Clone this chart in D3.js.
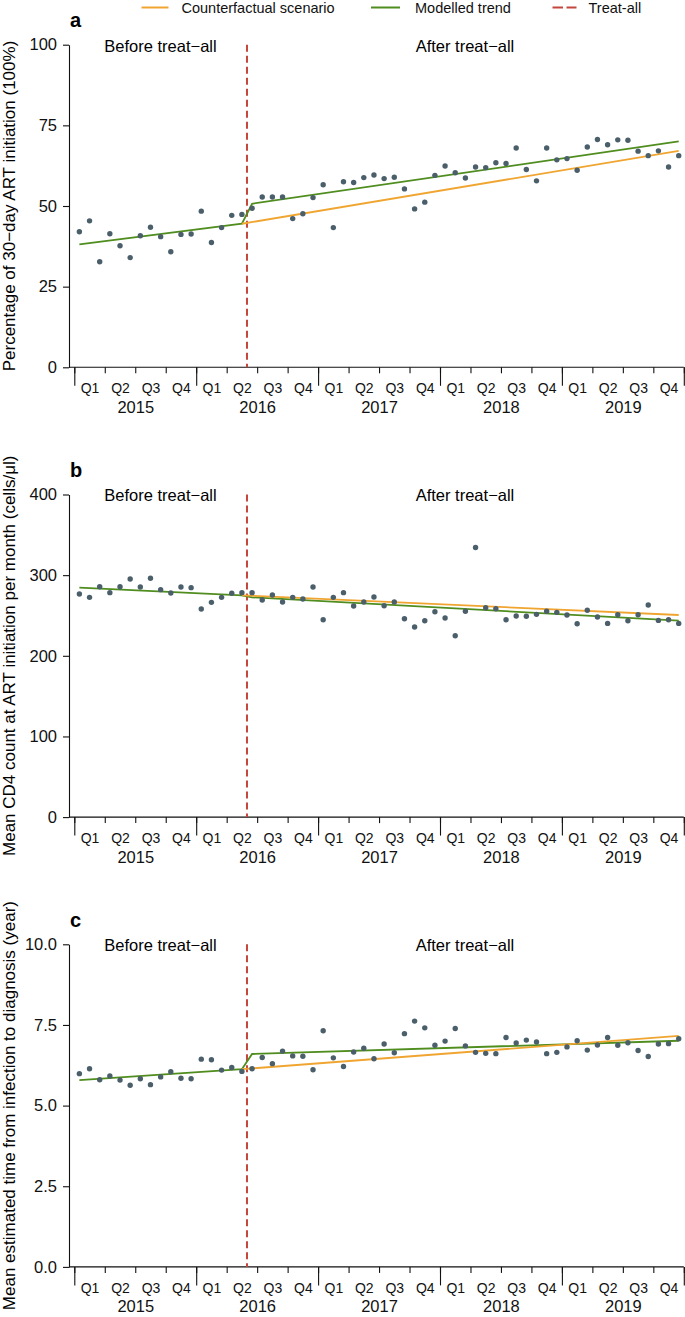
<!DOCTYPE html>
<html>
<head>
<meta charset="utf-8">
<script src="https://cdn.jsdelivr.net/npm/d3@7"></script>
<style>
  body { margin: 0; background: #fff; }
  text { font-family: "Liberation Sans", Arial, sans-serif; }
</style>
</head>
<body>
<script>
// --- Data ---
const years = ["2015", "2016", "2017", "2018", "2019"];
const quarters = ["Q1", "Q2", "Q3", "Q4"];
const treatAllMonth = 17; // June 2016

// monthly observations, Jan 2015 .. Dec 2019
const art30 = [
  42.0, 45.4, 32.7, 41.4, 37.7, 34.0, 40.8, 43.4, 40.5, 35.8, 41.2, 41.3,
  48.4, 38.7, 43.3, 47.1, 47.4, 49.3, 52.8, 52.8, 52.8, 46.1, 47.6, 52.6,
  56.6, 43.3, 57.5, 57.3, 58.8, 59.6, 58.5, 58.9, 55.3, 49.1, 51.2, 59.5,
  62.4, 60.3, 58.7, 62.1, 61.9, 63.4, 63.2, 68.0, 61.3, 57.8, 68.0, 64.3,
  64.7, 61.1, 68.3, 70.6, 69.0, 70.5, 70.4, 67.0, 65.6, 67.1, 62.1, 65.6
];
const cd4 = [
  276.6, 272.5, 285.7, 278.3, 285.7, 295.3, 285.3, 296.1, 282.0, 277.9, 285.3, 284.5,
  258.0, 266.3, 272.5, 277.5, 278.3, 278.3, 269.2, 275.4, 266.7, 272.5, 270.4, 285.3,
  244.7, 272.5, 278.3, 261.7, 266.7, 272.9, 262.1, 266.7, 246.0, 235.7, 243.5, 254.7,
  246.8, 224.8, 255.2, 334.2, 259.6, 258.4, 244.7, 249.3, 249.0, 251.4, 255.2, 253.9,
  250.6, 239.8, 256.4, 248.1, 240.2, 250.9, 243.5, 250.9, 263.0, 243.9, 244.7, 240.2
];
const timeDx = [
  5.99, 6.14, 5.80, 5.92, 5.79, 5.63, 5.83, 5.65, 5.89, 6.05, 5.85, 5.83,
  6.44, 6.42, 6.10, 6.18, 6.06, 6.14, 6.49, 6.30, 6.69, 6.54, 6.53, 6.11,
  7.32, 6.48, 6.21, 6.66, 6.78, 6.45, 6.91, 6.64, 7.23, 7.62, 7.41, 6.87,
  7.00, 7.39, 6.85, 6.65, 6.62, 6.61, 7.11, 6.94, 7.03, 6.97, 6.61, 6.65,
  6.82, 7.01, 6.72, 6.88, 7.11, 6.87, 6.95, 6.71, 6.52, 6.91, 6.92, 7.07
];

// fitted lines (month index -> value)
const trendMonths = [0, 16, 17, 59];
const trendA = [38.1, 44.5, 50.7, 70.0];
const trendB = [284.5, 275.0, 272.5, 243.5];
const trendC = [5.79, 6.13, 6.60, 7.01];
const cfMonths = [16, 59];
const cfA = [44.5, 67.1];
const cfB = [275.0, 250.6];
const cfC = [6.13, 7.16];

const ticksA = [0, 25, 50, 75, 100];
const ticksB = [0, 100, 200, 300, 400];
const ticksC = [0, 2.5, 5, 7.5, 10];

// --- Constants ---
const W = 685, H = 1317;
const AXIS_X = 69;
const PANEL_TOP = 44.7, PANEL_H = 322.6, PANEL_STEP = 449.8;
const ORANGE = "#f0a530", GREEN = "#4f8d1f", RED = "#c4473d", DOT = "#4b5f6b";

const panels = [
  { label: "a", obs: art30, trend: trendA, cf: cfA, ticks: ticksA, fmt: d3.format("d"),
    title: "Percentage of 30\u2212day ART initiation (100%)" },
  { label: "b", obs: cd4, trend: trendB, cf: cfB, ticks: ticksB, fmt: d3.format("d"),
    title: "Mean CD4 count at ART initiation per month (cells/\u03bcl)" },
  { label: "c", obs: timeDx, trend: trendC, cf: cfC, ticks: ticksC, fmt: d3.format(".1f"),
    title: "Mean estimated time from infection to diagnosis (year)" }
];

const svg = d3.select("body").append("svg")
  .attr("width", W).attr("height", H);

const x = d3.scaleLinear().domain([0, 60]).range([74.3, 683.8]);

// --- Legend ---
const legend = svg.append("g");
const legendItems = [
  { name: "Counterfactual scenario", color: ORANGE, x1: 141.5, x2: 168.5, tx: 181.5, dash: null },
  { name: "Modelled trend", color: GREEN, x1: 371, x2: 400, tx: 415, dash: null },
  { name: "Treat-all", color: RED, x1: 552.5, x2: 576.5, tx: 588.5, dash: "10.5,3.5" }
];
legendItems.forEach(d => {
  legend.append("line")
    .attr("x1", d.x1).attr("x2", d.x2).attr("y1", 7.5).attr("y2", 7.5)
    .attr("stroke", d.color).attr("stroke-width", 2)
    .attr("stroke-dasharray", d.dash);
  legend.append("text")
    .attr("x", d.tx).attr("y", 13)
    .attr("font-size", 14.5).attr("fill", "#111")
    .text(d.name);
});

// --- Panels ---
panels.forEach((p, i) => {
  const top = PANEL_TOP + i * PANEL_STEP;
  const bottom = top + PANEL_H;
  const yMax = p.ticks[p.ticks.length - 1];
  const y = d3.scaleLinear().domain([0, yMax]).range([bottom, top]);
  const g = svg.append("g");

  // panel letter
  g.append("text")
    .attr("x", 70).attr("y", top - 17.4)
    .attr("font-size", 20).attr("font-weight", "bold")
    .text(p.label);

  // y axis title
  g.append("text")
    .attr("transform", `translate(15,${(top + bottom) / 2}) rotate(-90)`)
    .attr("text-anchor", "middle")
    .attr("font-size", 17)
    .text(p.title);

  // period labels
  g.append("text").attr("x", 104.3).attr("y", top + 6.8)
    .attr("font-size", 16.5).text("Before treat\u2212all");
  g.append("text").attr("x", 415.7).attr("y", top + 6.8)
    .attr("font-size", 16.5).text("After treat\u2212all");

  // y axis
  const yAxis = g.append("g")
    .attr("transform", `translate(${AXIS_X},0)`)
    .call(d3.axisLeft(y).tickValues(p.ticks).tickFormat(p.fmt)
      .tickSize(6).tickPadding(6).tickSizeOuter(0));
  yAxis.selectAll("text").attr("font-size", 16.5).attr("fill", "#111")
    .attr("font-family", "Liberation Sans, Arial, sans-serif");
  yAxis.selectAll("line, path").attr("stroke", "#111").attr("stroke-width", 1.1);

  // x axis line
  g.append("line")
    .attr("x1", AXIS_X).attr("x2", x(60)).attr("y1", bottom).attr("y2", bottom)
    .attr("stroke", "#111").attr("stroke-width", 1.1);

  const xg = g.append("g").attr("transform", `translate(0,${bottom})`);
  // quarter ticks
  xg.append("g")
    .call(d3.axisBottom(x).tickValues(d3.range(0, 61, 3)).tickSize(6).tickFormat(""))
    .call(a => a.select(".domain").remove());
  // year ticks
  xg.append("g")
    .call(d3.axisBottom(x).tickValues(d3.range(0, 61, 12)).tickSize(18.5).tickFormat(""))
    .call(a => a.select(".domain").remove());
  xg.selectAll("line").attr("stroke", "#111").attr("stroke-width", 1.1);

  // quarter labels
  const qLabels = years.flatMap(() => quarters);
  xg.append("g")
    .call(d3.axisBottom(x).tickValues(qLabels.map((q, k) => k * 3 + 1.5))
      .tickSize(0).tickPadding(16).tickFormat((d, k) => qLabels[k]))
    .call(a => a.select(".domain").remove())
    .selectAll("text").attr("font-size", 14).attr("fill", "#111")
    .attr("font-family", "Liberation Sans, Arial, sans-serif");
  // year labels
  xg.append("g")
    .call(d3.axisBottom(x).tickValues(years.map((yr, k) => k * 12 + 6))
      .tickSize(0).tickPadding(33.8).tickFormat((d, k) => years[k]))
    .call(a => a.select(".domain").remove())
    .selectAll("text").attr("font-size", 16.5).attr("fill", "#111")
    .attr("font-family", "Liberation Sans, Arial, sans-serif");

  // treat-all line
  g.append("line")
    .attr("x1", x(treatAllMonth)).attr("x2", x(treatAllMonth))
    .attr("y1", top).attr("y2", bottom)
    .attr("stroke", RED).attr("stroke-width", 2)
    .attr("stroke-dasharray", "7,4");

  const line = d3.line().x(d => x(d[0] + 0.5)).y(d => y(d[1]));

  // modelled trend
  g.append("path")
    .datum(trendMonths.map((m, k) => [m, p.trend[k]]))
    .attr("d", line)
    .attr("fill", "none").attr("stroke", GREEN).attr("stroke-width", 1.8);

  // counterfactual
  g.append("path")
    .datum(cfMonths.map((m, k) => [m, p.cf[k]]))
    .attr("d", line)
    .attr("fill", "none").attr("stroke", ORANGE).attr("stroke-width", 1.8);

  // observations
  g.append("g").selectAll("circle")
    .data(p.obs)
    .enter().append("circle")
    .attr("cx", (d, k) => x(k + 0.5))
    .attr("cy", d => y(d))
    .attr("r", 2.7)
    .attr("fill", DOT);
});
</script>
</body>
</html>
